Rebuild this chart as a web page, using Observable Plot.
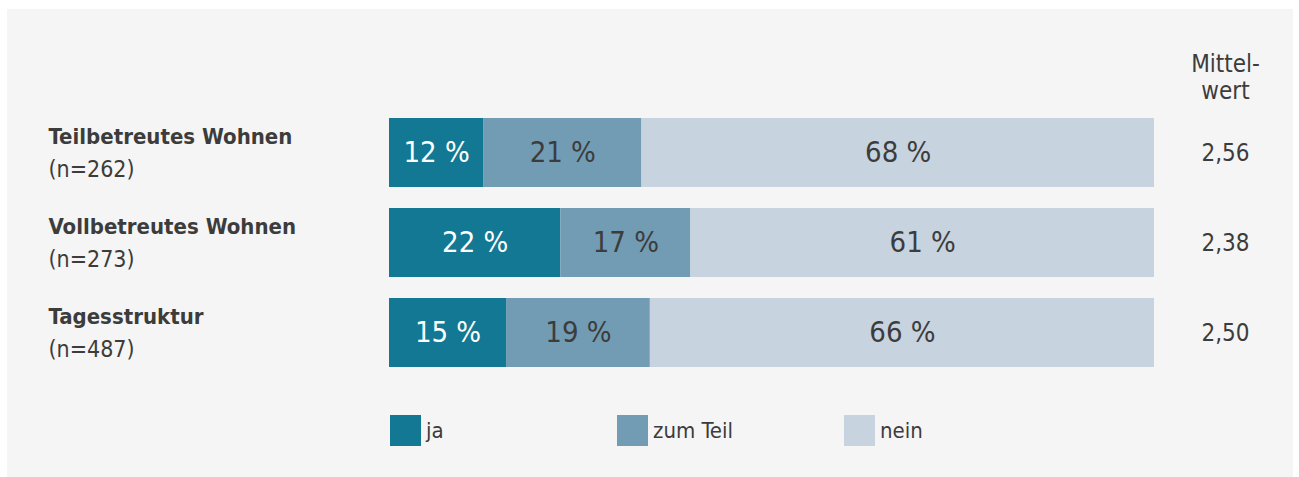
<!DOCTYPE html>
<html>
<head>
<meta charset="utf-8">
<script src="https://cdn.jsdelivr.net/npm/d3@7"></script>
<script src="https://cdn.jsdelivr.net/npm/@observablehq/plot@0.6"></script>
<style>
  html, body { margin: 0; padding: 0; background: #ffffff; }
  body { width: 1299px; height: 477px; position: relative; overflow: hidden;
         font-family: "DejaVu Sans Condensed", "Liberation Sans Narrow", sans-serif; }
  #panel { position: absolute; left: 7px; top: 9px; width: 1286px; height: 468px; background: #f5f5f5; }
  #chart { position: absolute; left: 0; top: 0; }
  #legend { position: absolute; left: 0; top: 415px; width: 1299px; height: 31px; }
  .item { position: absolute; top: 0; height: 31px; display: flex; align-items: center; }
  .sw { width: 31px; height: 31px; margin-right: 5px; flex: none; }
  .lab { font-size: 22px; color: #3c3c3c; line-height: 31px; }
</style>
</head>
<body>
<div id="panel"></div>
<div id="chart"></div>
<div id="legend"></div>
<script>
// ---- data ----
const groups = ["Teilbetreutes Wohnen", "Vollbetreutes Wohnen", "Tagesstruktur"];
const sampleSizes = ["(n=262)", "(n=273)", "(n=487)"];
const answers = ["ja", "zum Teil", "nein"];
const colors = ["#127893", "#729cb4", "#c7d3df"];
// shares (percent)
const jaShare = [12.3, 22.4, 15.3];
const zumTeilShare = [20.7, 17.0, 18.8];
const neinShare = [67.0, 60.6, 65.9];
// printed labels
const jaLabels = ["12 %", "22 %", "15 %"];
const zumTeilLabels = ["21 %", "17 %", "19 %"];
const neinLabels = ["68 %", "61 %", "66 %"];
const means = ["2,56", "2,38", "2,50"];
const meanHeader = "Mittel-\nwert";

const shares = [jaShare, zumTeilShare, neinShare];
const labels = [jaLabels, zumTeilLabels, neinLabels];
const data = [];
groups.forEach((g, i) => {
  answers.forEach((a, j) => {
    data.push({group: g, cat: a, value: shares[j][i], label: labels[j][i]});
  });
});
const rows = groups.map((g, i) => ({group: g, n: sampleSizes[i], mean: means[i]}));

const font = '"DejaVu Sans Condensed", "Liberation Sans Narrow", sans-serif';
const textColor = "#3c3c3c";

const stackOpts = {x: "value", y: "group", z: "cat", offset: "normalize", text: "label"};

const chart = Plot.plot({
  width: 1299,
  height: 400,
  marginLeft: 389,
  marginRight: 145,
  marginTop: 95,
  marginBottom: 11,
  style: {background: "transparent", fontFamily: font, color: textColor},
  x: {domain: [0, 1], axis: null},
  y: {domain: groups, axis: null, padding: 0.2376},
  color: {domain: answers, range: colors},
  marks: [
    Plot.barX(data, Plot.stackX({x: "value", y: "group", fill: "cat", offset: "normalize"})),
    Plot.text(data, Plot.filter(d => d.cat === "ja", Plot.stackX({...stackOpts, fill: "white", fontSize: 29}))),
    Plot.text(data, Plot.filter(d => d.cat !== "ja", Plot.stackX({...stackOpts, fill: textColor, fontSize: 29}))),
    Plot.text(rows, {y: "group", text: "group", frameAnchor: "left", dx: -341, dy: -9, textAnchor: "start",
      lineAnchor: "bottom", fontWeight: "bold", fontSize: 22, fill: textColor}),
    Plot.text(rows, {y: "group", text: "n", frameAnchor: "left", dx: -341, dy: 24, textAnchor: "start",
      lineAnchor: "bottom", fontSize: 23, fill: textColor}),
    Plot.text(rows, {y: "group", text: "mean", frameAnchor: "right", dx: 71, textAnchor: "middle",
      fontSize: 24, fill: textColor}),
    Plot.text([meanHeader], {text: d => d, frameAnchor: "top-right", dx: 71, dy: 3, textAnchor: "middle",
      lineAnchor: "bottom", lineHeight: 1.125, fontSize: 24, fill: textColor})
  ]
});
document.getElementById("chart").appendChild(chart);

// legend
const legendX = [390, 617, 844];
const legend = document.getElementById("legend");
answers.forEach((a, i) => {
  const item = document.createElement("div");
  item.className = "item";
  item.style.left = legendX[i] + "px";
  const sw = document.createElement("div");
  sw.className = "sw";
  sw.style.background = colors[i];
  const lab = document.createElement("span");
  lab.className = "lab";
  lab.textContent = a;
  item.appendChild(sw);
  item.appendChild(lab);
  legend.appendChild(item);
});
</script>
</body>
</html>
